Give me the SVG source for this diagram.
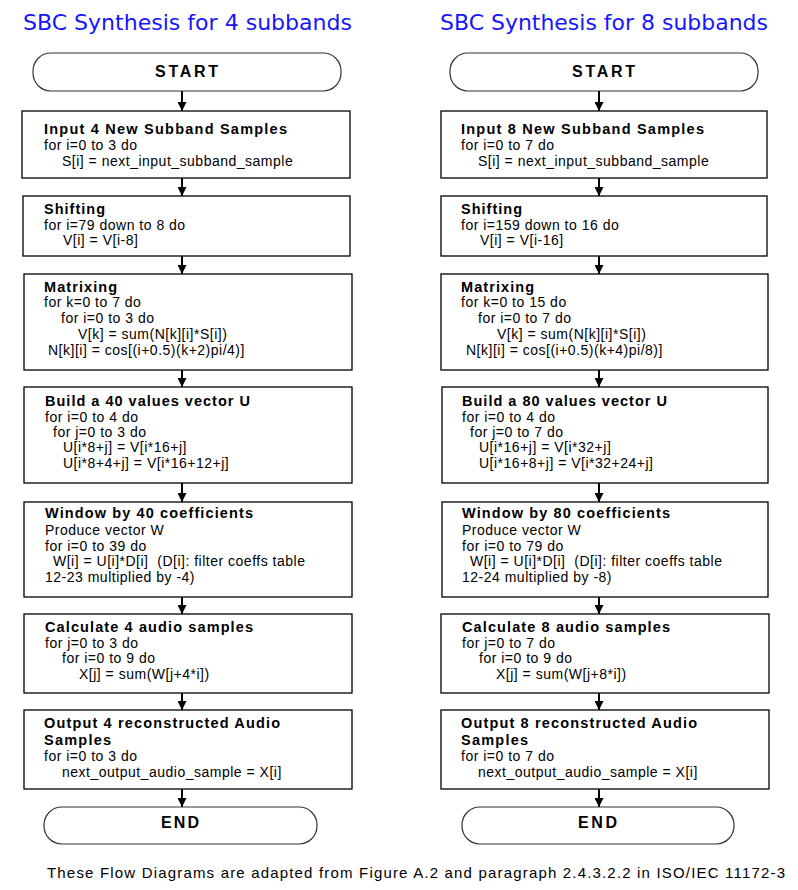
<svg xmlns="http://www.w3.org/2000/svg" width="798" height="890" viewBox="0 0 798 890">
<style>
.title{font-family:"DejaVu Sans",Verdana,sans-serif;font-size:22px;fill:#1515ff}
.box{fill:#fff;stroke:#000;stroke-width:1.3}
.term{fill:#fff;stroke:#333;stroke-width:1.2}
.h{font-family:"Liberation Sans",Arial,sans-serif;font-size:14.5px;font-weight:bold;fill:#000}
.t{font-family:"Liberation Sans",Arial,sans-serif;font-size:14px;letter-spacing:0.5px;fill:#000}
.tt{font-family:"Liberation Sans",Arial,sans-serif;font-size:16px;font-weight:bold;fill:#000}
.cap{font-family:"Liberation Sans",Arial,sans-serif;font-size:15px;fill:#000}
.conn line{stroke:#000;stroke-width:2;marker-end:url(#ah)}
</style>
<defs>
<marker id="ah" viewBox="0 0 10 10" refX="10" refY="5" markerWidth="4.5" markerHeight="4.5" orient="auto" markerUnits="strokeWidth">
<path d="M0,0 L10,5 L0,10 z" fill="#000"/>
</marker>
</defs>
<rect width="798" height="890" fill="#fff"/>

<text class="title" x="23" y="30" textLength="329" lengthAdjust="spacingAndGlyphs">SBC Synthesis for 4 subbands</text>
<text class="title" x="440" y="30" textLength="328" lengthAdjust="spacingAndGlyphs">SBC Synthesis for 8 subbands</text>

<g id="connectors" class="conn">
<line x1="182" y1="91" x2="182" y2="111"/>
<line x1="182" y1="178" x2="182" y2="196"/>
<line x1="182" y1="256" x2="182" y2="274"/>
<line x1="182" y1="370" x2="182" y2="387"/>
<line x1="182" y1="483" x2="182" y2="502"/>
<line x1="182" y1="597" x2="182" y2="614"/>
<line x1="182" y1="693" x2="182" y2="710"/>
<line x1="182" y1="789" x2="182" y2="807"/>
<line x1="599" y1="91" x2="599" y2="111"/>
<line x1="599" y1="178" x2="599" y2="196"/>
<line x1="599" y1="256" x2="599" y2="274"/>
<line x1="599" y1="370" x2="599" y2="387"/>
<line x1="599" y1="483" x2="599" y2="502"/>
<line x1="599" y1="597" x2="599" y2="614"/>
<line x1="599" y1="693" x2="599" y2="710"/>
<line x1="599" y1="789" x2="599" y2="807"/>
</g>

<!-- Left column -->
<g id="L-start">
<rect class="term" x="33" y="53" width="308" height="38" rx="18"/>
<text class="tt" x="155" y="77" textLength="63" lengthAdjust="spacing">START</text>
</g>
<g id="L-input">
<rect class="box" x="22" y="111" width="328" height="67"/>
<text class="h" x="44" y="134" textLength="243" lengthAdjust="spacing">Input 4 New Subband Samples</text>
<text class="t" x="44" y="150">for i=0 to 3 do</text>
<text class="t" x="62" y="166">S[i] = next_input_subband_sample</text>
</g>
<g id="L-shift">
<rect class="box" x="23" y="196" width="327" height="60"/>
<text class="h" x="44" y="214" textLength="61" lengthAdjust="spacing">Shifting</text>
<text class="t" x="44" y="230">for i=79 down to 8 do</text>
<text class="t" x="63" y="245">V[i] = V[i-8]</text>
</g>
<g id="L-matrix">
<rect class="box" x="24" y="274" width="328" height="96"/>
<text class="h" x="44" y="292" textLength="73" lengthAdjust="spacing">Matrixing</text>
<text class="t" x="44" y="307">for k=0 to 7 do</text>
<text class="t" x="61" y="323">for i=0 to 3 do</text>
<text class="t" x="78" y="339">V[k] = sum(N[k][i]*S[i])</text>
<text class="t" x="48" y="355">N[k][i] = cos[(i+0.5)(k+2)pi/4)]</text>
</g>
<g id="L-build">
<rect class="box" x="24" y="387" width="328" height="96"/>
<text class="h" x="45" y="406" textLength="205" lengthAdjust="spacing">Build a 40 values vector U</text>
<text class="t" x="45" y="422">for i=0 to 4 do</text>
<text class="t" x="53" y="437">for j=0 to 3 do</text>
<text class="t" x="63" y="452">U[i*8+j] = V[i*16+j]</text>
<text class="t" x="63" y="468">U[i*8+4+j] = V[i*16+12+j]</text>
</g>
<g id="L-window">
<rect class="box" x="24" y="502" width="328" height="95"/>
<text class="h" x="45" y="518" textLength="208" lengthAdjust="spacing">Window by 40 coefficients</text>
<text class="t" x="45" y="535">Produce vector W</text>
<text class="t" x="45" y="551">for i=0 to 39 do</text>
<text class="t" x="53" y="566" xml:space="preserve">W[i] = U[i]*D[i]  (D[i]: filter coeffs table</text>
<text class="t" x="45" y="582">12-23 multiplied by -4)</text>
</g>
<g id="L-calc">
<rect class="box" x="24" y="614" width="328" height="79"/>
<text class="h" x="45" y="632" textLength="208" lengthAdjust="spacing">Calculate 4 audio samples</text>
<text class="t" x="45" y="648">for j=0 to 3 do</text>
<text class="t" x="62" y="663">for i=0 to 9 do</text>
<text class="t" x="79" y="679">X[j] = sum(W[j+4*i])</text>
</g>
<g id="L-output">
<rect class="box" x="24" y="710" width="328" height="79"/>
<text class="h" x="44" y="728" textLength="236" lengthAdjust="spacing">Output 4 reconstructed Audio</text>
<text class="h" x="44" y="745" textLength="67" lengthAdjust="spacing">Samples</text>
<text class="t" x="44" y="761">for i=0 to 3 do</text>
<text class="t" x="62" y="777">next_output_audio_sample = X[i]</text>
</g>
<g id="L-end">
<rect class="term" x="44" y="807" width="273" height="37" rx="18"/>
<text class="tt" x="161" y="828" textLength="38" lengthAdjust="spacing">END</text>
</g>

<!-- Right column -->
<g id="R-start">
<rect class="term" x="450" y="53" width="308" height="38" rx="18"/>
<text class="tt" x="572" y="77" textLength="63" lengthAdjust="spacing">START</text>
</g>
<g id="R-input">
<rect class="box" x="441" y="111" width="326" height="67"/>
<text class="h" x="461" y="134" textLength="243" lengthAdjust="spacing">Input 8 New Subband Samples</text>
<text class="t" x="461" y="150">for i=0 to 7 do</text>
<text class="t" x="478" y="166">S[i] = next_input_subband_sample</text>
</g>
<g id="R-shift">
<rect class="box" x="441" y="196" width="326" height="60"/>
<text class="h" x="461" y="214" textLength="61" lengthAdjust="spacing">Shifting</text>
<text class="t" x="461" y="230">for i=159 down to 16 do</text>
<text class="t" x="480" y="245">V[i] = V[i-16]</text>
</g>
<g id="R-matrix">
<rect class="box" x="441" y="274" width="327" height="96"/>
<text class="h" x="461" y="292" textLength="73" lengthAdjust="spacing">Matrixing</text>
<text class="t" x="461" y="307">for k=0 to 15 do</text>
<text class="t" x="478" y="323">for i=0 to 7 do</text>
<text class="t" x="497" y="339">V[k] = sum(N[k][i]*S[i])</text>
<text class="t" x="466" y="355">N[k][i] = cos[(i+0.5)(k+4)pi/8)]</text>
</g>
<g id="R-build">
<rect class="box" x="442" y="387" width="326" height="96"/>
<text class="h" x="462" y="406" textLength="205" lengthAdjust="spacing">Build a 80 values vector U</text>
<text class="t" x="462" y="422">for i=0 to 4 do</text>
<text class="t" x="470" y="437">for j=0 to 7 do</text>
<text class="t" x="479" y="452">U[i*16+j] = V[i*32+j]</text>
<text class="t" x="479" y="468">U[i*16+8+j] = V[i*32+24+j]</text>
</g>
<g id="R-window">
<rect class="box" x="442" y="502" width="326" height="95"/>
<text class="h" x="462" y="518" textLength="208" lengthAdjust="spacing">Window by 80 coefficients</text>
<text class="t" x="462" y="535">Produce vector W</text>
<text class="t" x="462" y="551">for i=0 to 79 do</text>
<text class="t" x="470" y="566" xml:space="preserve">W[i] = U[i]*D[i]  (D[i]: filter coeffs table</text>
<text class="t" x="462" y="582">12-24 multiplied by -8)</text>
</g>
<g id="R-calc">
<rect class="box" x="441" y="614" width="328" height="79"/>
<text class="h" x="462" y="632" textLength="208" lengthAdjust="spacing">Calculate 8 audio samples</text>
<text class="t" x="462" y="648">for j=0 to 7 do</text>
<text class="t" x="479" y="663">for i=0 to 9 do</text>
<text class="t" x="496" y="679">X[j] = sum(W[j+8*i])</text>
</g>
<g id="R-output">
<rect class="box" x="441" y="710" width="328" height="79"/>
<text class="h" x="461" y="728" textLength="236" lengthAdjust="spacing">Output 8 reconstructed Audio</text>
<text class="h" x="461" y="745" textLength="67" lengthAdjust="spacing">Samples</text>
<text class="t" x="461" y="761">for i=0 to 7 do</text>
<text class="t" x="478" y="777">next_output_audio_sample = X[i]</text>
</g>
<g id="R-end">
<rect class="term" x="462" y="807" width="272" height="37" rx="18"/>
<text class="tt" x="578" y="828" textLength="39" lengthAdjust="spacing">END</text>
</g>

<text class="cap" x="47" y="878" textLength="738" lengthAdjust="spacing">These Flow Diagrams are adapted from Figure A.2 and paragraph 2.4.3.2.2 in ISO/IEC 11172-3</text>
</svg>
